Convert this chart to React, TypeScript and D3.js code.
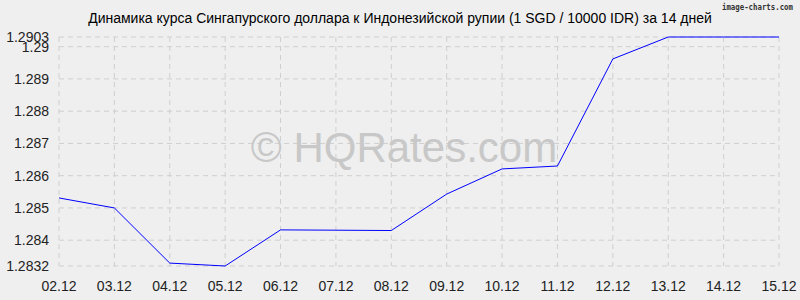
import React from "react";
import * as d3 from "d3";

const dates = ["02.12","03.12","04.12","05.12","06.12","07.12","08.12","09.12","10.12","11.12","12.12","13.12","14.12","15.12"];
const rates = [1.28531,1.2850,1.28329,1.2832,1.28432,1.28431,1.2843,1.28543,1.28621,1.2863,1.28962,1.2903,1.2903,1.2903];
const yTicks = [1.2832,1.284,1.285,1.286,1.287,1.288,1.289,1.29,1.2903];
const yTickLabels = ["1.2832","1.284","1.285","1.286","1.287","1.288","1.289","1.29","1.2903"];
const title = "Динамика курса Сингапурского доллара к Индонезийской рупии (1 SGD / 10000 IDR) за 14 дней";

export default function App() {
  const W = 800, H = 300;
  const left = 59, right = 779, top = 37, bottom = 266;
  const x = d3.scalePoint<string>().domain(dates).range([left, right]);
  const y = d3.scaleLinear().domain([1.2832, 1.2903]).range([bottom, top]);
  const line = d3.line<number>().x((_, i) => x(dates[i])!).y(d => y(d));
  const font = "Arial, 'Liberation Sans', sans-serif";
  return (
    <svg width={W} height={H} style={{ position: "absolute", left: 0, top: 0 }}>
      <rect x={0} y={0} width={W} height={H} fill="#efefef" />
      {dates.map(d => (
        <line key={d} x1={x(d)} x2={x(d)} y1={top} y2={bottom} stroke="#cfcfcf" strokeDasharray="5,4" />
      ))}
      {yTicks.map(t => (
        <line key={t} x1={left} x2={right} y1={y(t)} y2={y(t)} stroke="#cfcfcf" strokeDasharray="5,4" />
      ))}
      <text x={404} y={162} textAnchor="middle" fontFamily={font} fontSize={42} fill="#c8c8c8">© HQRates.com</text>
      <path d={line(rates)!} fill="none" stroke="#0000ff" strokeWidth={1} />
      <text x={400} y={23} textAnchor="middle" fontFamily={font} fontSize={14} fill="#000">{title}</text>
      <text x={722} y={10} fontFamily="'DejaVu Sans Mono', monospace" fontSize={9} fontWeight="bold" fill="#333" textLength={71} lengthAdjust="spacingAndGlyphs">image-charts.com</text>
      {yTicks.map((t, i) => (
        <text key={t} x={49} y={y(t) + 5} textAnchor="end" fontFamily={font} fontSize={14} fill="#222">{yTickLabels[i]}</text>
      ))}
      {dates.map(d => (
        <text key={d} x={x(d)} y={291} textAnchor="middle" fontFamily={font} fontSize={14} fill="#222">{d}</text>
      ))}
    </svg>
  );
}
